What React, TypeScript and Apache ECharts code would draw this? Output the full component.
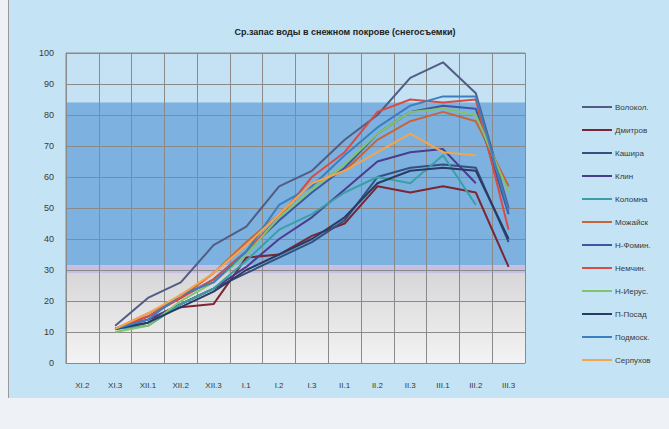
import React, { useEffect, useRef } from "react";
import * as echarts from "echarts";

const categories = ["XI.2", "XI.3", "XII.1", "XII.2", "XII.3", "I.1", "I.2", "I.3", "II.1", "II.2", "II.3", "III.1", "III.2", "III.3"];

const volokol = [null, 12, 21, 26, 38, 44, 57, 62, 72, 80, 92, 97, 87, 50];
const dmitrov = [null, 11, 14, 18, 19, 34, 35, 41, 45, 57, 55, 57, 55, 31];
const kashira = [null, 11, 13, 19, 24, 29, 34, 39, 46, 60, 63, 64, 63, 39];
const klin = [null, 11, 14, 19, 24, 31, 40, 47, 56, 65, 68, 69, 58, null];
const kolomna = [null, 11, 12, 19, 24, 33, 43, 48, 55, 60, 58, 67, 51, null];
const mozhaysk = [null, 11, 16, 21, 29, 39, 48, 58, 62, 72, 78, 81, 78, 57];
const nfomin = [null, 11, 15, 21, 27, 36, 46, 55, 63, 74, 81, 83, 82, 48];
const nemchin = [null, 11, 15, 21, 27, 36, 47, 60, 68, 81, 85, 84, 85, 43];
const nierus = [null, 10, 12, 20, 26, 35, 47, 56, 64, 74, 81, 82, 80, 55];
const pposad = [null, 11, 13, 18, 23, 30, 35, 40, 47, 58, 62, 63, 62, 40];
const podmosk = [null, 11, 14, 22, 26, 36, 51, 57, 67, 76, 83, 86, 86, 49];
const serpukhov = [null, 11, 16, 22, 29, 38, 48, 58, 62, 68, 74, 68, 67, null];

const seriesNames = ["Волокол.", "Дмитров", "Кашира", "Клин", "Коломна", "Можайск", "Н-Фомин.", "Немчин.", "Н-Иерус.", "П-Посад", "Подмоск.", "Серпухов"];
const seriesData = [volokol, dmitrov, kashira, klin, kolomna, mozhaysk, nfomin, nemchin, nierus, pposad, podmosk, serpukhov];
const seriesColors = ["#525c84", "#7b2535", "#34507e", "#4b3c8c", "#3aa0a6", "#c8643a", "#3c58a0", "#d94c43", "#82c46e", "#2b3a63", "#3b7fc0", "#f3a54e"];

const yTicks = { min: 0, max: 100, interval: 10 };
const bands = [
  { from: 84, to: 100, color: "#c4e2f4" },
  { from: 31.5, to: 84, color: "#7db2e0" },
  { from: 29, to: 31.5, color: "#c6bfe2" },
];
const title = "Ср.запас воды в снежном покрове (снегосъемки)";

export default function App() {
  const ref = useRef<HTMLDivElement>(null);
  useEffect(() => {
    if (!ref.current) return;
    const chart = echarts.init(ref.current, null, { renderer: "svg" });
    const font = "'Liberation Sans', Arial, sans-serif";
    const bandSeries: any = {
      type: "line",
      name: "__bands",
      data: categories.map(() => null),
      z: 1,
      silent: true,
      markArea: {
        silent: true,
        data: [
          ...bands.map((b) => [
            { yAxis: b.from, itemStyle: { color: b.color } },
            { yAxis: b.to },
          ]),
          [
            {
              yAxis: 0,
              itemStyle: {
                color: new echarts.graphic.LinearGradient(0, 0, 0, 1, [
                  { offset: 0, color: "#d7d7d9" },
                  { offset: 1, color: "#f3f3f3" },
                ]),
              },
            },
            { yAxis: 29 },
          ],
        ],
      },
    };
    chart.setOption({
      animation: false,
      backgroundColor: "transparent",
      title: {
        text: title,
        left: 340,
        textAlign: "center",
        top: 22,
        textStyle: { fontFamily: font, fontSize: 9, fontWeight: "bold", color: "#222" },
      },
      legend: {
        orient: "vertical",
        left: 577,
        top: 96,
        icon: "rect",
        itemWidth: 30,
        itemHeight: 2,
        itemGap: 11,
        data: seriesNames,
        textStyle: { fontFamily: font, fontSize: 8, color: "#3a3a3a", lineHeight: 12, padding: [0, 0, 0, -2] },
      },
      grid: {
        left: 66,
        right: 144,
        top: 53,
        bottom: 66,
        show: true,
        borderColor: "#8a8a8a",
        borderWidth: 1,
        backgroundColor: "transparent",
      },
      xAxis: {
        type: "category",
        data: categories,
        boundaryGap: true,
        z: 3,
        axisLine: { show: true, lineStyle: { color: "#8a8a8a" } },
        axisTick: { show: false },
        splitLine: { show: true, lineStyle: { color: "#8a8a8a", width: 1 } },
        axisLabel: { fontFamily: font, fontSize: 8, color: "#3a3a3a", margin: 18, interval: 0 },
      },
      yAxis: {
        type: "value",
        min: yTicks.min,
        max: yTicks.max,
        interval: yTicks.interval,
        z: 3,
        axisLine: { show: true, lineStyle: { color: "#8a8a8a" } },
        axisTick: { show: false },
        splitLine: { show: true, lineStyle: { color: "#8a8a8a", width: 1 } },
        axisLabel: { fontFamily: font, fontSize: 9, color: "#3a3a3a", margin: 12 },
      },
      series: [
        bandSeries,
        ...seriesNames.map((name, i) => ({
          type: "line",
          name,
          data: seriesData[i],
          z: 5,
          showSymbol: false,
          connectNulls: false,
          color: seriesColors[i],
          lineStyle: { width: 2, color: seriesColors[i] },
        })),
      ],
    });
    return () => chart.dispose();
  }, []);
  return (
    <div style={{ position: "fixed", left: 0, top: 0, width: 669, height: 429, background: "#eef1f5", overflow: "hidden" }}>
      <div style={{ position: "absolute", left: 8, top: 0, width: 661, height: 398, background: "#c4e3f4", borderLeft: "1px solid #9a9a9a" }} />
      <div ref={ref} style={{ position: "absolute", left: 0, top: 0, width: 669, height: 429 }} />
    </div>
  );
}
